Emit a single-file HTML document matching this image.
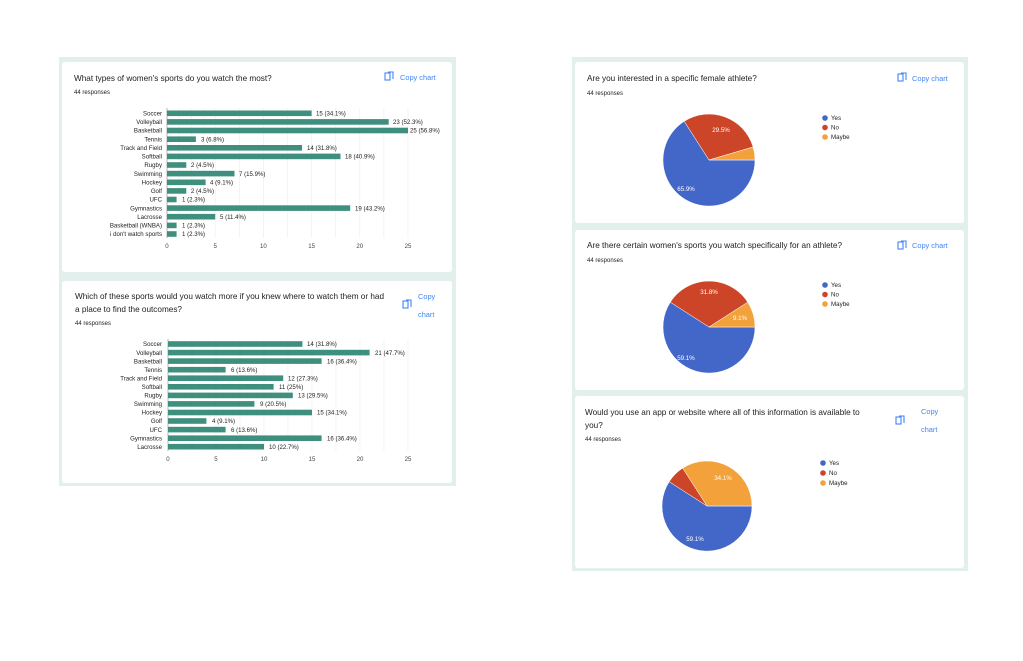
<!DOCTYPE html>
<html><head><meta charset="utf-8"><style>
html,body{margin:0;padding:0;background:#fff;}
svg{display:block;font-family:"Liberation Sans",Arial,sans-serif;}
.t{font-size:8.2px;fill:#202124;}
.r{font-size:6px;fill:#202124;}
.c{font-size:7.4px;fill:#4285f4;}
.l{font-size:6.1px;fill:#222;text-anchor:end;}
.v{font-size:6.1px;fill:#222;}
.k{font-size:6.1px;fill:#444;text-anchor:middle;}
.p{font-size:6.2px;fill:#fff;text-anchor:middle;}
.g{font-size:6.2px;fill:#222;}
</style></head><body>
<svg width="1023" height="661" viewBox="0 0 1023 661" xmlns="http://www.w3.org/2000/svg">
<!-- left panel -->
<rect x="59" y="57" width="397" height="429" fill="#e2efed"/>
<rect x="62" y="62" width="390" height="210" rx="3" fill="#fff"/>
<rect x="62" y="281" width="390" height="202" rx="3" fill="#fff"/>
<!-- right panel -->
<rect x="572" y="57" width="396" height="514" fill="#e2efed"/>
<rect x="575" y="62" width="389" height="161" rx="3" fill="#fff"/>
<rect x="575" y="230" width="389" height="160" rx="3" fill="#fff"/>
<rect x="575" y="396" width="389" height="172" rx="3" fill="#fff"/>

<!-- copy icons -->
<g fill="none" stroke="#4285f4" stroke-width="1.1">
<rect x="385" y="73" width="5" height="7"/><path d="M388 72 h5 v7"/>
<rect x="403" y="301" width="5" height="7"/><path d="M406 300 h5 v7"/>
<rect x="898" y="74" width="5" height="7"/><path d="M901 73 h5 v7"/>
<rect x="898" y="242" width="5" height="7"/><path d="M901 241 h5 v7"/>
<rect x="896" y="417" width="5" height="7"/><path d="M899 416 h5 v7"/>
</g>

<!-- chart 1 -->
<text class="t" x="74" y="81">What types of women's sports do you watch the most?</text>
<text class="r" x="74" y="94">44 responses</text>
<text class="c" x="400" y="80">Copy chart</text>
<g stroke="#ececec" stroke-width="0.6">
<line x1="179" y1="108" x2="179" y2="238"/><line x1="191.2" y1="108" x2="191.2" y2="238"/><line x1="203.3" y1="108" x2="203.3" y2="238"/>
<line x1="215.2" y1="108" x2="215.2" y2="238"/><line x1="239.3" y1="108" x2="239.3" y2="238"/><line x1="263.4" y1="108" x2="263.4" y2="238"/>
<line x1="287.5" y1="108" x2="287.5" y2="238"/><line x1="311.6" y1="108" x2="311.6" y2="238"/><line x1="335.7" y1="108" x2="335.7" y2="238"/>
<line x1="359.8" y1="108" x2="359.8" y2="238"/><line x1="383.9" y1="108" x2="383.9" y2="238"/><line x1="408" y1="108" x2="408" y2="238"/>
</g>
<line x1="167" y1="108" x2="167" y2="238" stroke="#999" stroke-width="0.7"/>
<g fill="#3f8f7e">
<rect x="167" y="110.5" width="144.6" height="5.6"/>
<rect x="167" y="119.1" width="221.7" height="5.6"/>
<rect x="167" y="127.7" width="241" height="5.6"/>
<rect x="167" y="136.4" width="28.9" height="5.6"/>
<rect x="167" y="145" width="135" height="5.6"/>
<rect x="167" y="153.6" width="173.5" height="5.6"/>
<rect x="167" y="162.2" width="19.3" height="5.6"/>
<rect x="167" y="170.8" width="67.5" height="5.6"/>
<rect x="167" y="179.5" width="38.6" height="5.6"/>
<rect x="167" y="188.1" width="19.3" height="5.6"/>
<rect x="167" y="196.7" width="9.6" height="5.6"/>
<rect x="167" y="205.3" width="183.2" height="5.6"/>
<rect x="167" y="213.9" width="48.2" height="5.6"/>
<rect x="167" y="222.6" width="9.6" height="5.6"/>
<rect x="167" y="231.2" width="9.6" height="5.6"/>
</g>
<g class="l">
<text x="162" y="115.5">Soccer</text><text x="162" y="124.1">Volleyball</text><text x="162" y="132.7">Basketball</text>
<text x="162" y="141.4">Tennis</text><text x="162" y="150">Track and Field</text><text x="162" y="158.6">Softball</text>
<text x="162" y="167.2">Rugby</text><text x="162" y="175.8">Swimming</text><text x="162" y="184.5">Hockey</text>
<text x="162" y="193.1">Golf</text><text x="162" y="201.7">UFC</text><text x="162" y="210.3">Gymnastics</text>
<text x="162" y="218.9">Lacrosse</text><text x="162" y="227.6">Basketball (WNBA)</text><text x="162" y="236.2">i don't watch sports</text>
</g>
<g class="v">
<text x="316" y="115.5">15 (34.1%)</text><text x="393" y="124.1">23 (52.3%)</text><text x="410" y="132.7">25 (56.8%)</text>
<text x="201" y="141.4">3 (6.8%)</text><text x="307" y="150">14 (31.8%)</text><text x="345" y="158.6">18 (40.9%)</text>
<text x="191" y="167.2">2 (4.5%)</text><text x="239" y="175.8">7 (15.9%)</text><text x="210" y="184.5">4 (9.1%)</text>
<text x="191" y="193.1">2 (4.5%)</text><text x="182" y="201.7">1 (2.3%)</text><text x="355" y="210.3">19 (43.2%)</text>
<text x="220" y="218.9">5 (11.4%)</text><text x="182" y="227.6">1 (2.3%)</text><text x="182" y="236.2">1 (2.3%)</text>
</g>
<g class="k"><text x="167" y="248">0</text><text x="215.2" y="248">5</text><text x="263.4" y="248">10</text><text x="311.6" y="248">15</text><text x="359.8" y="248">20</text><text x="408" y="248">25</text></g>

<!-- chart 2 -->
<text class="t" x="75" y="299">Which of these sports would you watch more if you knew where to watch them or had</text>
<text class="t" x="75" y="312">a place to find the outcomes?</text>
<text class="r" x="75" y="325">44 responses</text>
<text class="c" x="418" y="299">Copy</text>
<text class="c" x="418" y="317">chart</text>
<g stroke="#ececec" stroke-width="0.6">
<line x1="192" y1="339" x2="192" y2="451"/><line x1="216" y1="339" x2="216" y2="451"/><line x1="240" y1="339" x2="240" y2="451"/>
<line x1="264" y1="339" x2="264" y2="451"/><line x1="288" y1="339" x2="288" y2="451"/><line x1="312" y1="339" x2="312" y2="451"/>
<line x1="336" y1="339" x2="336" y2="451"/><line x1="360" y1="339" x2="360" y2="451"/><line x1="384" y1="339" x2="384" y2="451"/><line x1="408" y1="339" x2="408" y2="451"/>
</g>
<line x1="168" y1="339" x2="168" y2="451" stroke="#999" stroke-width="0.7"/>
<g fill="#3f8f7e">
<rect x="168" y="341.2" width="134.4" height="5.6"/>
<rect x="168" y="349.8" width="201.6" height="5.6"/>
<rect x="168" y="358.3" width="153.6" height="5.6"/>
<rect x="168" y="366.9" width="57.6" height="5.6"/>
<rect x="168" y="375.4" width="115.2" height="5.6"/>
<rect x="168" y="384" width="105.6" height="5.6"/>
<rect x="168" y="392.6" width="124.8" height="5.6"/>
<rect x="168" y="401.1" width="86.4" height="5.6"/>
<rect x="168" y="409.7" width="144" height="5.6"/>
<rect x="168" y="418.2" width="38.4" height="5.6"/>
<rect x="168" y="426.8" width="57.6" height="5.6"/>
<rect x="168" y="435.4" width="153.6" height="5.6"/>
<rect x="168" y="443.9" width="96" height="5.6"/>
</g>
<g class="l">
<text x="162" y="346.2">Soccer</text><text x="162" y="354.8">Volleyball</text><text x="162" y="363.3">Basketball</text>
<text x="162" y="371.9">Tennis</text><text x="162" y="380.4">Track and Field</text><text x="162" y="389">Softball</text>
<text x="162" y="397.6">Rugby</text><text x="162" y="406.1">Swimming</text><text x="162" y="414.7">Hockey</text>
<text x="162" y="423.2">Golf</text><text x="162" y="431.8">UFC</text><text x="162" y="440.4">Gymnastics</text><text x="162" y="448.9">Lacrosse</text>
</g>
<g class="v">
<text x="307" y="346.2">14 (31.8%)</text><text x="375" y="354.8">21 (47.7%)</text><text x="327" y="363.3">16 (36.4%)</text>
<text x="231" y="371.9">6 (13.6%)</text><text x="288" y="380.4">12 (27.3%)</text><text x="279" y="389">11 (25%)</text>
<text x="298" y="397.6">13 (29.5%)</text><text x="260" y="406.1">9 (20.5%)</text><text x="317" y="414.7">15 (34.1%)</text>
<text x="212" y="423.2">4 (9.1%)</text><text x="231" y="431.8">6 (13.6%)</text><text x="327" y="440.4">16 (36.4%)</text><text x="269" y="448.9">10 (22.7%)</text>
</g>
<g class="k"><text x="168" y="461">0</text><text x="216" y="461">5</text><text x="264" y="461">10</text><text x="312" y="461">15</text><text x="360" y="461">20</text><text x="408" y="461">25</text></g>

<!-- pie 1 -->
<text class="t" x="587" y="81">Are you interested in a specific female athlete?</text>
<text class="r" x="587" y="95">44 responses</text>
<text class="c" x="912" y="81">Copy chart</text>
<g stroke="#fff" stroke-width="0.5">
<path d="M709 160 L755 160 A46 46 0 1 1 684.2 121.3 Z" fill="#4267c8"/>
<path d="M709 160 L684.2 121.3 A46 46 0 0 1 753.1 147 Z" fill="#cc4529"/>
<path d="M709 160 L753.1 147 A46 46 0 0 1 755 160 Z" fill="#f2a13b"/>
</g>
<text class="p" x="721" y="132">29.5%</text><text class="p" x="686" y="191">65.9%</text>
<circle cx="825" cy="118" r="2.8" fill="#4267c8"/><text class="g" x="831" y="120">Yes</text>
<circle cx="825" cy="127.5" r="2.8" fill="#cc4529"/><text class="g" x="831" y="129.5">No</text>
<circle cx="825" cy="137" r="2.8" fill="#f2a13b"/><text class="g" x="831" y="139">Maybe</text>

<!-- pie 2 -->
<text class="t" x="587" y="248">Are there certain women's sports you watch specifically for an athlete?</text>
<text class="r" x="587" y="262">44 responses</text>
<text class="c" x="912" y="248">Copy chart</text>
<g stroke="#fff" stroke-width="0.5">
<path d="M709 327 L755 327 A46 46 0 1 1 670.3 302.2 Z" fill="#4267c8"/>
<path d="M709 327 L670.3 302.2 A46 46 0 0 1 747.7 302.2 Z" fill="#cc4529"/>
<path d="M709 327 L747.7 302.2 A46 46 0 0 1 755 327 Z" fill="#f2a13b"/>
</g>
<text class="p" x="709" y="294">31.8%</text><text class="p" x="740" y="320">9.1%</text><text class="p" x="686" y="360">59.1%</text>
<circle cx="825" cy="285" r="2.8" fill="#4267c8"/><text class="g" x="831" y="287">Yes</text>
<circle cx="825" cy="294.5" r="2.8" fill="#cc4529"/><text class="g" x="831" y="296.5">No</text>
<circle cx="825" cy="304" r="2.8" fill="#f2a13b"/><text class="g" x="831" y="306">Maybe</text>

<!-- pie 3 -->
<text class="t" x="585" y="415">Would you use an app or website where all of this information is available to</text>
<text class="t" x="585" y="428">you?</text>
<text class="r" x="585" y="441">44 responses</text>
<text class="c" x="921" y="414">Copy</text>
<text class="c" x="921" y="432">chart</text>
<g stroke="#fff" stroke-width="0.5">
<path d="M707 506 L752 506 A45 45 0 1 1 669.2 481.7 Z" fill="#4267c8"/>
<path d="M707 506 L669.2 481.7 A45 45 0 0 1 682.7 468.1 Z" fill="#cc4529"/>
<path d="M707 506 L682.7 468.1 A45 45 0 0 1 752 506 Z" fill="#f2a13b"/>
</g>
<text class="p" x="723" y="480">34.1%</text><text class="p" x="695" y="541">59.1%</text>
<circle cx="823" cy="463" r="2.8" fill="#4267c8"/><text class="g" x="829" y="465">Yes</text>
<circle cx="823" cy="473" r="2.8" fill="#cc4529"/><text class="g" x="829" y="475">No</text>
<circle cx="823" cy="483" r="2.8" fill="#f2a13b"/><text class="g" x="829" y="485">Maybe</text>
</svg>
</body></html>
